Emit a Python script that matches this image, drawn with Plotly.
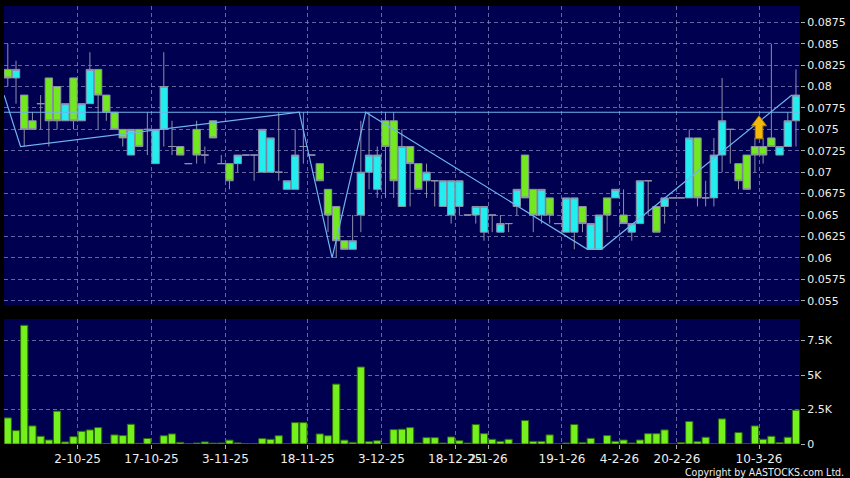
import plotly.graph_objects as go

# ---- data ----
opens = [0.082, 0.081, 0.079, 0.076, 0.078, 0.081, 0.080, 0.076, 0.081, 0.076,
         0.078, 0.082, 0.079, 0.077, 0.075, 0.072, 0.075, 0.075, 0.071, 0.075,
         0.073, 0.073, 0.071, 0.075, 0.072, 0.076, 0.071, 0.071, 0.071, 0.072,
         0.072, 0.070, 0.070, 0.070, 0.068, 0.068, 0.073, 0.072, 0.071, 0.068,
         0.066, 0.062, 0.061, 0.065, 0.070, 0.068, 0.076, 0.076, 0.066, 0.073,
         0.071, 0.069, 0.069, 0.066, 0.065, 0.066, 0.065, 0.065, 0.063, 0.065,
         0.063, 0.064, 0.066, 0.072, 0.068, 0.065, 0.067, 0.064, 0.063, 0.063,
         0.066, 0.061, 0.061, 0.067, 0.067, 0.065, 0.063, 0.064, 0.069, 0.066,
         0.066, 0.067, 0.067, 0.067, 0.074, 0.067, 0.067, 0.072, 0.075, 0.071,
         0.072, 0.073, 0.073, 0.074, 0.072, 0.073, 0.076]
highs = [0.085, 0.083, 0.079, 0.077, 0.079, 0.081, 0.080, 0.078, 0.081, 0.078,
         0.084, 0.082, 0.079, 0.077, 0.075, 0.075, 0.075, 0.077, 0.075, 0.084,
         0.076, 0.073, 0.071, 0.076, 0.073, 0.076, 0.072, 0.071, 0.072, 0.072,
         0.072, 0.075, 0.074, 0.077, 0.069, 0.075, 0.077, 0.072, 0.071, 0.068,
         0.066, 0.062, 0.065, 0.076, 0.077, 0.073, 0.077, 0.077, 0.075, 0.073,
         0.071, 0.071, 0.069, 0.069, 0.069, 0.069, 0.065, 0.066, 0.066, 0.065,
         0.065, 0.064, 0.068, 0.072, 0.068, 0.068, 0.067, 0.064, 0.067, 0.067,
         0.066, 0.064, 0.065, 0.067, 0.068, 0.068, 0.064, 0.069, 0.069, 0.066,
         0.067, 0.067, 0.067, 0.075, 0.074, 0.069, 0.074, 0.081, 0.075, 0.071,
         0.072, 0.074, 0.074, 0.085, 0.073, 0.077, 0.082]
lows = [0.080, 0.078, 0.073, 0.075, 0.075, 0.073, 0.075, 0.076, 0.075, 0.076,
        0.078, 0.075, 0.076, 0.075, 0.073, 0.072, 0.073, 0.072, 0.071, 0.073,
        0.072, 0.072, 0.071, 0.071, 0.071, 0.074, 0.071, 0.068, 0.070, 0.072,
        0.069, 0.070, 0.070, 0.069, 0.068, 0.068, 0.071, 0.072, 0.069, 0.063,
        0.060, 0.061, 0.061, 0.063, 0.068, 0.067, 0.067, 0.067, 0.066, 0.066,
        0.068, 0.067, 0.066, 0.066, 0.064, 0.065, 0.065, 0.064, 0.062, 0.063,
        0.063, 0.063, 0.065, 0.067, 0.063, 0.064, 0.064, 0.064, 0.063, 0.061,
        0.063, 0.061, 0.061, 0.063, 0.067, 0.064, 0.062, 0.064, 0.065, 0.063,
        0.064, 0.067, 0.067, 0.067, 0.066, 0.066, 0.066, 0.070, 0.071, 0.068,
        0.068, 0.070, 0.071, 0.073, 0.072, 0.073, 0.073]
closes = [0.081, 0.082, 0.075, 0.075, 0.078, 0.076, 0.076, 0.078, 0.076, 0.078,
          0.082, 0.079, 0.077, 0.075, 0.074, 0.075, 0.073, 0.075, 0.075, 0.080,
          0.073, 0.072, 0.071, 0.072, 0.072, 0.074, 0.071, 0.069, 0.072, 0.072,
          0.072, 0.075, 0.074, 0.070, 0.069, 0.072, 0.073, 0.072, 0.069, 0.065,
          0.062, 0.061, 0.062, 0.070, 0.072, 0.072, 0.073, 0.069, 0.073, 0.071,
          0.068, 0.070, 0.069, 0.069, 0.069, 0.069, 0.065, 0.066, 0.066, 0.065,
          0.064, 0.064, 0.068, 0.067, 0.065, 0.068, 0.065, 0.064, 0.067, 0.067,
          0.064, 0.064, 0.065, 0.065, 0.068, 0.064, 0.064, 0.069, 0.069, 0.063,
          0.067, 0.067, 0.067, 0.074, 0.067, 0.067, 0.072, 0.076, 0.075, 0.069,
          0.068, 0.072, 0.072, 0.073, 0.073, 0.076, 0.079]
volumes = [1890, 970, 8600, 1310, 560, 290, 2380, 150, 530, 920,
           1020, 1190, 20, 660, 610, 1430, 50, 400, 40, 600,
           730, 120, 10, 70, 150, 60, 70, 280, 80, 20,
           20, 390, 340, 600, 10, 1550, 1550, 10, 730, 600,
           4340, 280, 120, 5580, 170, 240, 10, 1040, 1070, 1190,
           70, 460, 460, 70, 510, 240, 70, 1410, 750, 340,
           190, 340, 20, 1700, 190, 190, 660, 10, 70, 1410,
           100, 410, 10, 610, 190, 290, 70, 290, 750, 750,
           1020, 10, 100, 1630, 170, 490, 10, 1820, 50, 830,
           10, 1310, 340, 560, 100, 490, 2450]
slots = list(range(len(opens)))

date_tick_slots = [9, 18, 27, 37, 46, 55, 59, 68, 75, 82, 92]
date_tick_labels = ["2-10-25", "17-10-25", "3-11-25", "18-11-25", "3-12-25",
                    "18-12-25", "2-1-26", "19-1-26", "4-2-26", "20-2-26", "10-3-26"]
price_tick_vals = [0.055, 0.0575, 0.06, 0.0625, 0.065, 0.0675, 0.07, 0.0725,
                   0.075, 0.0775, 0.08, 0.0825, 0.085, 0.0875]
price_tick_text = ["0.055", "0.0575", "0.06", "0.0625", "0.065", "0.0675", "0.07",
                   "0.0725", "0.075", "0.0775", "0.08", "0.0825", "0.085", "0.0875"]
vol_tick_vals = [0, 2500, 5000, 7500]
vol_tick_text = ["0", "2.5K", "5K", "7.5K"]

resistance_level = 0.077
zigzag_slots = [-0.45, 1.55, 35.5, 39.5, 43.6, 70.6, 72.3, 95.5]
zigzag_prices = [0.079, 0.073, 0.077, 0.060, 0.077, 0.061, 0.061, 0.079]
signal_slot = 91.5
signal_price = 0.0739

# ---- styling ----
GRID = "rgba(135,135,185,0.75)"
TXT = "#eeeeee"
FONT = "DejaVu Sans"
tick_pos = [s - 0.5 for s in date_tick_slots]

fig = go.Figure()
fig.add_trace(go.Candlestick(
    x=slots, open=opens, high=highs, low=lows, close=closes,
    increasing=dict(line=dict(color="#8f8fa8", width=1), fillcolor="#22eef0"),
    decreasing=dict(line=dict(color="#8f8fa8", width=1), fillcolor="#72e81e"),
    whiskerwidth=0, showlegend=False, xaxis="x", yaxis="y"))
fig.add_trace(go.Scatter(
    x=zigzag_slots, y=zigzag_prices, mode="lines",
    line=dict(color="#6fb4ee", width=1.2), showlegend=False,
    hoverinfo="skip", xaxis="x", yaxis="y"))
fig.add_trace(go.Bar(
    x=slots, y=volumes, width=0.88,
    marker=dict(color="#74f01c", line=dict(color="#2e6a0c", width=1)),
    showlegend=False, xaxis="x2", yaxis="y2"))

fig.add_shape(type="line", xref="paper", x0=0, x1=1, yref="y",
              y0=resistance_level, y1=resistance_level,
              line=dict(color="#6fb4ee", width=1.2))
fig.add_shape(type="path", xref="x", yref="y",
              xsizemode="pixel", ysizemode="pixel",
              xanchor=signal_slot, yanchor=signal_price,
              path="M -3.8,0 L 3.8,0 L 3.8,13 L 7.5,13 L 0,23 L -7.5,13 L -3.8,13 Z",
              fillcolor="#f4b80c", line=dict(color="#b07c00", width=1))

xcommon = dict(range=[-0.463, 96.49], tickvals=tick_pos, showgrid=True,
               gridcolor=GRID, griddash="4px,3px", gridwidth=1,
               zeroline=False, showline=False)
fig.update_layout(
    width=850, height=478,
    paper_bgcolor="#000000", plot_bgcolor="#000050",
    margin=dict(l=4, r=50, t=6, b=34),
    boxgap=0.1, boxgroupgap=0, bargap=0.1,
    font=dict(family=FONT, color=TXT, size=11),
    xaxis=dict(domain=[0, 1], anchor="y", showticklabels=False, ticks="",
               rangeslider=dict(visible=False), **xcommon),
    xaxis2=dict(domain=[0, 1], anchor="y2", matches="x", ticktext=date_tick_labels,
                ticks="outside", ticklen=4, tickcolor="#aaaaaa", tickangle=0,
                tickfont=dict(size=12, color=TXT, family=FONT), **xcommon),
    yaxis=dict(domain=[0.3174, 1], anchor="x", side="right",
               range=[0.0545, 0.0894], tickvals=price_tick_vals, ticktext=price_tick_text,
               ticks="outside", ticklen=4, tickcolor="#aaaaaa",
               showgrid=True, gridcolor=GRID, griddash="4px,3px", zeroline=False,
               tickfont=dict(size=11, color=TXT, family=FONT)),
    yaxis2=dict(domain=[0, 0.2854], anchor="x2", side="right",
                range=[0, 9060], tickvals=vol_tick_vals, ticktext=vol_tick_text,
                ticks="outside", ticklen=4, tickcolor="#aaaaaa",
                showgrid=True, gridcolor=GRID, griddash="4px,3px", zeroline=False,
                tickfont=dict(size=11, color=TXT, family=FONT)),
    annotations=[dict(text="Copyright by AASTOCKS.com Ltd.", xref="paper", yref="paper",
                      x=1.0574, y=-0.063, xanchor="right", yanchor="middle",
                      showarrow=False, font=dict(size=10.5, color=TXT, family="DejaVu Sans Condensed"))],
)
fig.write_html("out.html", config={"displayModeBar": False},
               post_script="document.body.style.margin='0px';document.body.style.padding='0px';")
